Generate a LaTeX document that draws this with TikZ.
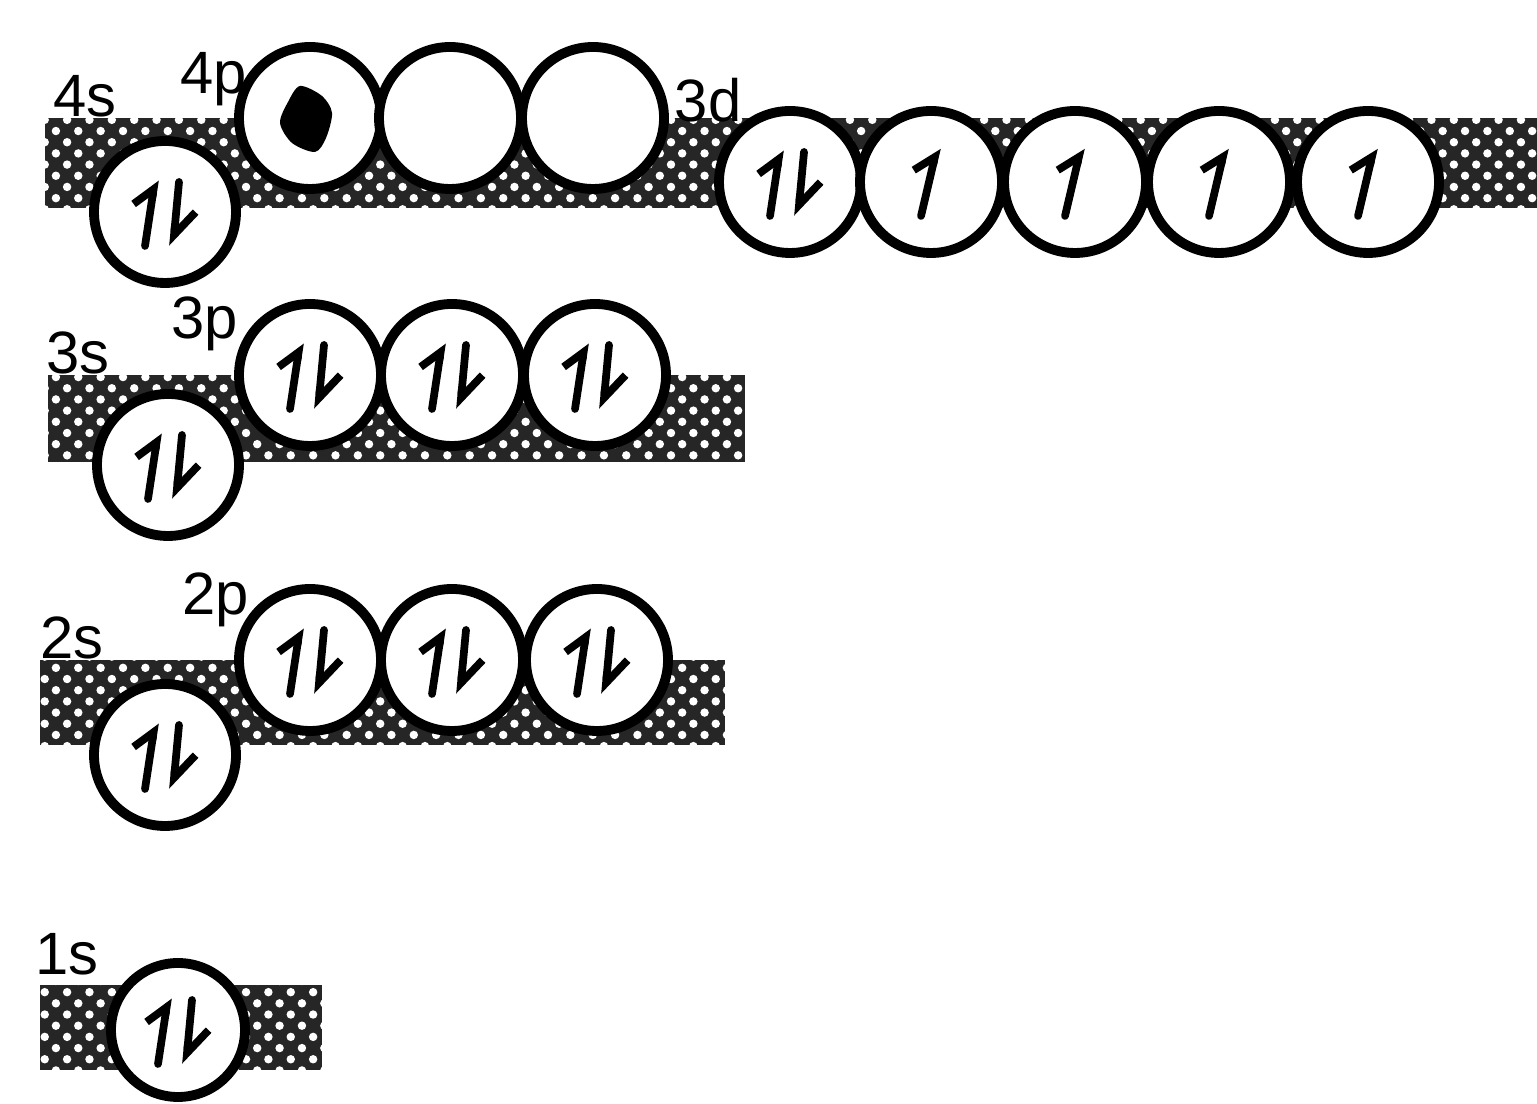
\documentclass[tikz,border=0pt]{standalone}
\usepackage{fontspec}
\setmainfont{Liberation Sans}
\usetikzlibrary{positioning, arrows.meta, patterns.meta}

\tikzset{
  orb/.style={circle, draw, line width=2.8pt, fill=white, minimum size=1.42cm, inner sep=0pt, outer sep=0pt},
  band/.style={fill=black!85, postaction={pattern={Dots[distance=4.5pt, radius=1.2pt, angle=45]}, pattern color=white}},
  lbl/.style={font=\fontsize{17}{19}\selectfont, inner sep=0pt},
  eup/.style={line width=2.2pt, line cap=round, -{Straight Barb[left, length=5pt, width=10pt]}},
  edown/.style={line width=2.2pt, line cap=round, -{Straight Barb[left, length=7pt, width=11pt]}},
}
\newcommand{\epair}[1]{%
  \draw[eup] ([shift={(-0.2,-0.34)}]#1.center) -- ++(0.1,0.66);
  \draw[edown] ([shift={(0.14,0.3)}]#1.center) -- ++(-0.06,-0.64);}
\newcommand{\eone}[1]{%
  \draw[eup] ([shift={(-0.1,-0.34)}]#1.center) -- ++(0.16,0.68);}

\begin{document}
\begin{tikzpicture}
\useasboundingbox (0,0) rectangle (15.37,11.04);

\fill[band] (0.45,8.96) rectangle (15.37,9.86);
\fill[band] (0.48,6.42) rectangle (7.45,7.29);
\fill[band] (0.40,3.59) rectangle (7.25,4.44);
\fill[band] (0.40,0.34) rectangle (3.22,1.19);

% fourth shell
\node[orb] (s4) at (1.65,8.92) {};
\node[orb] (p4a) at (3.10,9.86) {};
\node[orb] (p4b) at (4.50,9.86) {};
\node[orb] (p4c) at (5.93,9.86) {};
\node[orb] (d3a) at (7.90,9.22) {};
\node[orb] (d3b) at (9.31,9.22) {};
\node[orb] (d3c) at (10.75,9.22) {};
\node[orb] (d3d) at (12.19,9.22) {};
\node[orb] (d3e) at (13.68,9.22) {};
\node[lbl, anchor=south] at (0.85,9.86) {4s};
\node[lbl] at (2.14,10.25) {4p};
\node[lbl] at (7.08,10.04) {3d};

% third shell
\node[orb] (s3) at (1.68,6.39) {};
\node[orb] (p3a) at (3.10,7.29) {};
\node[orb] (p3b) at (4.52,7.29) {};
\node[orb] (p3c) at (5.95,7.29) {};
\node[lbl, anchor=south] at (0.78,7.29) {3s};
\node[lbl] at (2.05,7.80) {3p};

% second shell
\node[orb] (s2) at (1.65,3.49) {};
\node[orb] (p2a) at (3.10,4.44) {};
\node[orb] (p2b) at (4.52,4.44) {};
\node[orb] (p2c) at (5.97,4.44) {};
\node[lbl, anchor=south] at (0.72,4.44) {2s};
\node[lbl] at (2.16,5.04) {2p};

% first shell
\node[orb, minimum size=1.34cm] (s1) at (1.78,0.74) {};
\node[lbl] at (0.67,1.50) {1s};

\foreach \o in {s4,d3a,s3,p3a,p3b,p3c,s2,p2a,p2b,p2c,s1} {\epair{\o}}
\foreach \o in {d3b,d3c,d3d,d3e} {\eone{\o}}

\fill[shift={(p4a.center)}] plot[smooth cycle] coordinates {(-0.1,0.32) (0.12,0.22) (0.22,0.05) (0.16,-0.2) (0.05,-0.34) (-0.18,-0.25) (-0.3,-0.05) (-0.22,0.16)};
\end{tikzpicture}
\end{document}
